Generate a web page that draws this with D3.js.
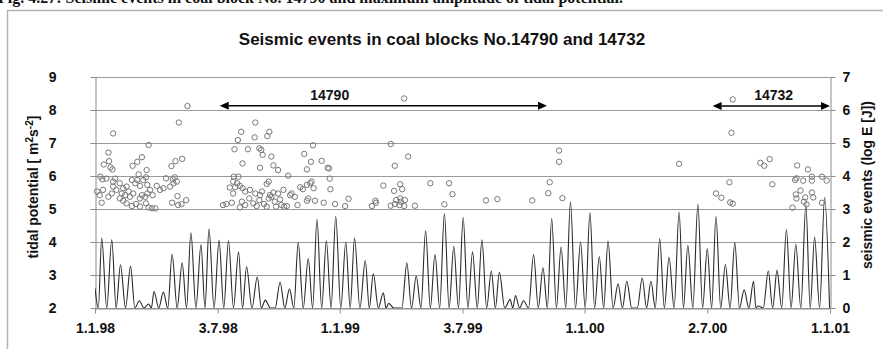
<!DOCTYPE html>
<html>
<head>
<meta charset="utf-8">
<script src="https://cdn.jsdelivr.net/npm/d3@7"></script>
<style>
  html, body { margin: 0; padding: 0; background: #fff; }
  svg { display: block; }
  text { font-family: "Liberation Sans", Arial, sans-serif; font-weight: bold; fill: #111; }
</style>
</head>
<body>
<svg id="chart" width="883" height="349"></svg>
<script>
// ---- data ---------------------------------------------------------------
// Days are counted from 1 January 1998.
const startDay = "1998-01-01";
const endDay = "2001-01-01";

const xTickDates = ["1998-01-01", "1998-07-03", "1999-01-01", "1999-07-03", "2000-01-01", "2000-07-02", "2001-01-01"];
const xTickLabels = ["1.1.98", "3.7.98", "1.1.99", "3.7.99", "1.1.00", "2.7.00", "1.1.01"];
const tideTicks = [2, 3, 4, 5, 6, 7, 8, 9];
const logETicks = [0, 1, 2, 3, 4, 5, 6, 7];

// Maximum amplitude of tidal potential: day of each peak and its height [m2s-2]
const tidePeakDay = [0, 10, 25, 38, 53, 66, 80, 88, 102, 115, 130, 143, 158, 170, 185, 199, 214, 226, 242, 254,
  276, 290, 303, 318, 331, 345, 359, 374, 387, 403, 415, 430, 438, 465, 479, 493, 507, 521, 535, 549,
  563, 577, 591, 603, 619, 627, 639, 654, 668, 681, 695, 709, 724, 738, 752, 765, 780, 793, 816, 829,
  842, 856, 871, 884, 899, 913, 926, 940, 954, 968, 982, 989, 1004, 1017, 1031, 1045, 1060, 1073, 1088];
const tidePeakValue = [2.6, 4.12, 4.07, 3.31, 3.26, 2.22, 2.12, 2.5, 2.48, 3.63, 3.37, 4.28, 3.92, 4.4, 4.05, 4.04, 3.7, 3.25, 2.94, 2.24,
  2.78, 2.58, 3.99, 3.5, 4.69, 4.04, 4.78, 4.0, 4.12, 3.44, 3.04, 2.46, 2.14, 3.36, 2.97, 4.34, 3.62, 4.86, 3.87, 4.74,
  3.7, 4.07, 3.12, 3.08, 2.26, 2.38, 2.22, 3.62, 3.22, 4.71, 3.85, 5.22, 4.0, 4.89, 3.56, 4.03, 2.73, 2.81, 2.91, 2.81,
  4.1, 3.54, 4.91, 3.9, 5.15, 3.8, 4.78, 3.32, 3.98, 2.55, 2.81, 2.06, 3.12, 3.14, 4.38, 3.93, 5.12, 4.15, 5.35];

// Seismic events: day and energy (log E [J])
const eventDay = [27, 20, 13, 21, 23, 26, 80, 70, 63, 56, 77, 65, 8, 11, 17, 30, 27, 3, 7, 10,
  12, 20, 25, 27, 32, 37, 40, 42, 47, 50, 52, 55, 60, 63, 67, 70, 72, 76, 78, 42,
  47, 55, 61, 67, 76, 80, 85, 90, 82, 86, 92, 97, 102, 106, 112, 116, 119, 117, 122, 115,
  123, 124, 129, 136, 114, 120, 130, 125, 138, 78, 75, 67, 57, 45, 37,
  191, 196, 204, 201, 207, 214, 206, 212, 216, 220, 224, 216, 219, 224, 230, 231, 236, 239, 241, 245,
  246, 249, 252, 256, 259, 261, 263, 266, 268, 270, 273, 276, 278, 282, 286, 281, 259, 256, 288, 293,
  298, 302, 306, 310, 316, 318, 321, 323, 326, 316, 328, 341, 350, 351, 358, 373, 378, 349, 347, 338,
  322, 316, 312, 325, 273, 266, 263, 250, 246, 245, 248, 238, 239, 228, 220, 208, 213, 218, 257, 260,
  209, 206, 291,
  461, 441, 467, 447, 430, 455, 446, 458, 500, 528, 533, 521, 418, 419, 413, 441, 447, 449, 455, 456,
  462, 454, 461, 477, 583, 600, 652, 678, 676, 697, 692, 692,
  951, 949, 871, 992, 998, 1006, 1047, 1063, 946, 1010, 926, 934, 947, 951, 1040, 1045, 1046, 1052, 1057, 1059,
  1061, 1069, 1071, 1084, 1044, 1046, 1056, 1069, 1069, 1084, 1091];
const eventLogE = [5.29, 4.71, 4.35, 4.45, 4.26, 4.20, 4.94, 4.57, 4.43, 4.31, 4.18, 4.05, 3.98, 3.90, 3.92, 3.92, 3.83, 3.53, 3.42, 3.19,
  3.58, 3.37, 3.47, 3.68, 3.58, 3.78, 3.47, 3.63, 3.68, 3.53, 3.37, 3.88, 3.78, 3.88, 3.70, 3.42, 3.88, 3.96, 3.73, 3.25,
  3.17, 3.09, 3.15, 3.07, 3.17, 3.05, 3.02, 3.02, 3.58, 3.42, 3.70, 3.58, 3.63, 3.93, 3.68, 3.90, 3.96, 3.78, 3.83, 3.19,
  3.39, 3.12, 3.15, 3.27, 4.30, 4.45, 4.52, 5.62, 6.12, 3.47, 3.37, 3.32, 3.47, 3.42, 3.32,
  3.12, 3.15, 3.19, 3.65, 3.98, 3.98, 3.47, 3.78, 3.70, 3.63, 3.53, 3.05, 3.22, 3.12, 3.32, 3.58, 3.17, 3.47, 3.09, 3.27,
  3.42, 3.53, 3.15, 3.07, 3.32, 3.42, 3.37, 3.50, 3.22, 3.07, 3.47, 3.29, 3.12, 3.07, 3.09, 3.58, 3.83, 3.76, 4.01, 3.47,
  3.37, 3.12, 3.66, 3.60, 3.73, 3.32, 3.78, 3.83, 3.63, 3.25, 3.25, 3.19, 3.92, 3.60, 3.15, 3.09, 3.31, 4.23, 4.25, 4.46,
  4.43, 4.20, 4.67, 4.93, 4.18, 4.32, 4.59, 4.64, 4.25, 4.84, 4.79, 5.17, 5.62, 4.81, 4.38, 4.81, 5.09, 5.34, 5.21, 5.34,
  3.66, 3.83, 3.42,
  6.35, 4.97, 4.59, 4.31, 3.71, 3.75, 3.55, 3.60, 3.78, 3.78, 3.45, 3.14, 3.25, 3.19, 3.09, 3.10, 3.15, 3.27, 3.32, 3.22,
  3.27, 3.12, 3.09, 3.10, 3.26, 3.30, 3.26, 3.81, 3.48, 3.33, 4.77, 4.43,
  6.32, 5.31, 4.37, 4.40, 4.31, 4.51, 4.32, 4.20, 3.81, 3.75, 3.47, 3.34, 3.20, 3.16, 3.04, 3.44, 3.32, 3.56, 3.22, 3.35,
  3.14, 3.50, 3.35, 3.19, 3.88, 3.93, 3.86, 3.98, 3.86, 3.98, 3.86];

// Mining periods of the two coal blocks
const blockName = ["14790", "14732"];
const blockFromDay = [186, 921];
const blockToDay = [674, 1096];
const blockLabelDay = [350, 1012];
const blockArrowLogE = [6.13, 6.12];
const blockLabelLogE = [6.3, 6.3];

// ---- layout -------------------------------------------------------------
const svg = d3.select("#chart");
const W = 883, H = 349;
const plot = { left: 95, right: 830, top: 77, bottom: 308 };
const parse = d3.timeParse("%Y-%m-%d");
const t0 = parse(startDay);
const toDate = d => d3.timeDay.offset(t0, 0).getTime() + d * 86400000;

const x = d3.scaleTime().domain([t0, parse(endDay)]).range([plot.left, plot.right]);
const yTide = d3.scaleLinear().domain([2, 9]).range([plot.bottom, plot.top]);
const yLogE = d3.scaleLinear().domain([0, 7]).range([plot.bottom, plot.top]);

svg.append("rect").attr("width", W).attr("height", H).attr("fill", "#fff");

// figure caption running above the chart frame
svg.append("text")
  .attr("x", -2).attr("y", 3)
  .style("font-family", "'Liberation Serif', 'Times New Roman', serif")
  .style("font-size", "16px")
  .text("Fig. 4.27: Seismic events in coal block No. 14790 and maximum amplitude of tidal potential.");

// chart frame
svg.append("rect")
  .attr("x", 7.5).attr("y", 10.5).attr("width", 900).attr("height", 360)
  .attr("fill", "#fff").attr("stroke", "#b5b5b5").attr("stroke-width", 1.5);

// title
svg.append("text")
  .attr("x", 442).attr("y", 45)
  .attr("text-anchor", "middle")
  .style("font-size", "17px")
  .text("Seismic events in coal blocks No.14790 and 14732");

// horizontal gridlines
svg.append("g").selectAll("line").data(tideTicks).join("line")
  .attr("x1", plot.left).attr("x2", plot.right)
  .attr("y1", d => Math.round(yTide(d)) + 0.5).attr("y2", d => Math.round(yTide(d)) + 0.5)
  .attr("stroke", "#9a9a9a").attr("stroke-width", 1);

// axes
const axisStyle = g => {
  g.selectAll("path.domain").attr("stroke", "#8a8a8a");
  g.selectAll(".tick line").attr("stroke", "#8a8a8a");
  g.selectAll(".tick text")
    .style("font-family", "'Liberation Sans', Arial, sans-serif")
    .style("font-weight", "bold").style("font-size", "14px").attr("fill", "#111");
};

svg.append("g")
  .attr("transform", `translate(${plot.left + 0.5},0)`)
  .call(d3.axisLeft(yTide).tickValues(tideTicks).tickSize(5).tickSizeOuter(0).tickPadding(34).tickFormat(d3.format("d")))
  .call(axisStyle);

svg.append("g")
  .attr("transform", `translate(${plot.right + 0.5},0)`)
  .call(d3.axisRight(yLogE).tickValues(logETicks).tickSize(5).tickSizeOuter(0).tickPadding(7).tickFormat(d3.format("d")))
  .call(axisStyle);

svg.append("g")
  .attr("transform", `translate(0,${plot.bottom + 0.5})`)
  .call(d3.axisBottom(x).tickValues(xTickDates.map(parse)).tickSize(5).tickSizeOuter(0).tickPadding(10)
    .tickFormat((d, i) => xTickLabels[i]))
  .call(axisStyle);

// axis titles
const leftTitle = svg.append("text")
  .attr("transform", "translate(38,187) rotate(-90)")
  .attr("text-anchor", "middle")
  .style("font-size", "14px");
leftTitle.append("tspan").text("tidal potential [ m");
leftTitle.append("tspan").attr("dy", -5).style("font-size", "10px").text("2");
leftTitle.append("tspan").attr("dy", 5).text("s");
leftTitle.append("tspan").attr("dy", -5).style("font-size", "10px").text("-2");
leftTitle.append("tspan").attr("dy", 5).text("]");

svg.append("text")
  .attr("transform", "translate(872,185) rotate(-90)")
  .attr("text-anchor", "middle")
  .style("font-size", "14px")
  .text("seismic events (log E [J])");

// ---- tidal potential curve ----------------------------------------------
svg.append("clipPath").attr("id", "plotClip")
  .append("rect")
  .attr("x", plot.left).attr("y", plot.top - 2)
  .attr("width", plot.right - plot.left).attr("height", plot.bottom - plot.top + 2);

// each peak rises from the axis floor and falls back to it
const floor = yTide.domain()[0];
const halfWidth = 7.4;
const tidePts = [];
tidePeakDay.forEach((d, i) => {
  tidePts.push([d, tidePeakValue[i]]);
  const next = tidePeakDay[i + 1];
  if (next === undefined) {
    tidePts.push([d + halfWidth, floor]);
  } else if (next - d > 2.4 * halfWidth) {
    tidePts.push([d + halfWidth, floor]);
    tidePts.push([next - halfWidth, floor]);
  } else {
    tidePts.push([(d + next) / 2, floor]);
  }
});

const tideLine = d3.line()
  .x(p => x(toDate(p[0])))
  .y(p => yTide(p[1]))
  .curve(d3.curveMonotoneX);

svg.append("path")
  .datum(tidePts)
  .attr("clip-path", "url(#plotClip)")
  .attr("d", tideLine)
  .attr("fill", "none")
  .attr("stroke", "#2a2a2a")
  .attr("stroke-width", 1.1);

// ---- seismic events -----------------------------------------------------
svg.append("g").selectAll("circle")
  .data(eventDay.map((d, i) => ({ day: d, logE: eventLogE[i] })))
  .join("circle")
  .attr("cx", d => x(toDate(d.day)))
  .attr("cy", d => yLogE(d.logE))
  .attr("r", 2.7)
  .attr("fill", "none")
  .attr("stroke", "#777")
  .attr("stroke-width", 1);

// ---- coal block mining periods ------------------------------------------
const blocks = blockName.map((name, i) => ({
  name,
  x1: x(toDate(blockFromDay[i])),
  x2: x(toDate(blockToDay[i])),
  lx: x(toDate(blockLabelDay[i])),
  y: yLogE(blockArrowLogE[i]),
  ly: yLogE(blockLabelLogE[i])
}));
const head = 9, halfHead = 4;
const ann = svg.append("g").selectAll("g").data(blocks).join("g");
ann.append("line")
  .attr("x1", d => d.x1 + head).attr("x2", d => d.x2 - head)
  .attr("y1", d => d.y).attr("y2", d => d.y)
  .attr("stroke", "#000").attr("stroke-width", 1.6);
ann.append("path")
  .attr("d", d => `M${d.x1},${d.y}L${d.x1 + head},${d.y - halfHead}L${d.x1 + head},${d.y + halfHead}Z`)
  .attr("fill", "#000");
ann.append("path")
  .attr("d", d => `M${d.x2},${d.y}L${d.x2 - head},${d.y - halfHead}L${d.x2 - head},${d.y + halfHead}Z`)
  .attr("fill", "#000");
ann.append("text")
  .attr("x", d => d.lx).attr("y", d => d.ly)
  .attr("text-anchor", "middle")
  .style("font-size", "14px")
  .text(d => d.name);
</script>
</body>
</html>
